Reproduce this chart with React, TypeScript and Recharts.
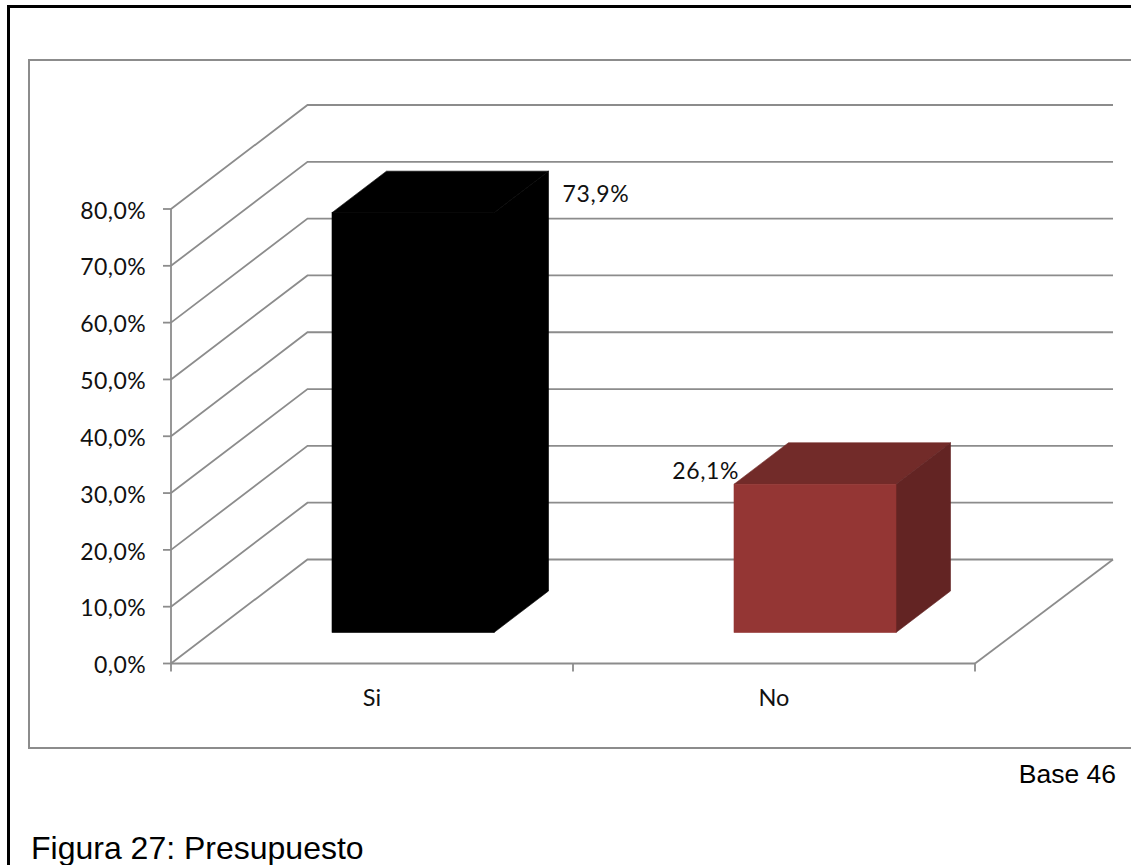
import { BarChart, Bar, XAxis, YAxis, CartesianGrid, ReferenceLine, LabelList } from "recharts";

const categories = ["Si", "No"];
const shares = [73.9, 26.1];
const yTicks = [0, 10, 20, 30, 40, 50, 60, 70, 80];

const frontColors = ["#000000", "#943634"];
const topColors = ["#000000", "#722b29"];
const sideColors = ["#000000", "#632423"];

const data = categories.map((name, i) => ({ name, share: shares[i] }));

const AXIS_COLOR = "#8c8c8c";
const TEXT_COLOR = "#111111";
const LABEL_FONT = "Lato, sans-serif";
const CAPTION_FONT: string = "'Liberation Sans', Arial, sans-serif";

// 3D projection of the Excel-style box: wall depth and bar depth
const WALL_DX = 136.5;
const WALL_DY = -104;
const WALL_RIGHT = 1113;
const BAR_SHIFT_X = 41;
const BAR_SHIFT_Y = -31;
const BAR_DX = 54.5;
const BAR_DY = -41.5;
const LINE_WIDTH = 1.8;

const percent = (v: number) => `${v.toFixed(1).replace(".", ",")}%`;

// left wall segment plus the line along the back wall
function WallLine(props: any) {
  const { x1, y1 } = props;
  const bx = x1 + WALL_DX;
  const by = y1 + WALL_DY;
  return (
    <path
      d={`M${x1},${y1}L${bx},${by}L${WALL_RIGHT},${by}`}
      fill="none"
      stroke={AXIS_COLOR}
      strokeWidth={LINE_WIDTH}
    />
  );
}

function FloorEdge(props: any) {
  const { x2, y2 } = props;
  return (
    <line
      x1={x2}
      y1={y2}
      x2={WALL_RIGHT}
      y2={y2 + WALL_DY}
      stroke={AXIS_COLOR}
      strokeWidth={LINE_WIDTH}
    />
  );
}

// category label centred in its band, tick marks on the band edges
function CategoryTick(props: any) {
  const { x, y, width, visibleTicksCount, payload, index } = props;
  const half = width / visibleTicksCount / 2;
  const marks = index === visibleTicksCount - 1 ? [x - half, x + half] : [x - half];
  return (
    <g>
      {marks.map((mx) => (
        <line key={mx} x1={mx} y1={y} x2={mx} y2={y + 8} stroke={AXIS_COLOR} strokeWidth={LINE_WIDTH} />
      ))}
      <text x={x} y={y + 42} textAnchor="middle" fontFamily={LABEL_FONT} fontSize={23.5} fill={TEXT_COLOR}>
        {payload.value}
      </text>
    </g>
  );
}

function Box3D(props: any) {
  const { x, y, width, height, index } = props;
  const l = x + BAR_SHIFT_X;
  const r = l + width;
  const t = y + BAR_SHIFT_Y;
  const b = t + height;
  return (
    <g strokeWidth={0.6}>
      <path
        d={`M${l},${t}L${l + BAR_DX},${t + BAR_DY}L${r + BAR_DX},${t + BAR_DY}L${r},${t}Z`}
        fill={topColors[index]}
        stroke={topColors[index]}
      />
      <path
        d={`M${r},${t}L${r + BAR_DX},${t + BAR_DY}L${r + BAR_DX},${b + BAR_DY}L${r},${b}Z`}
        fill={sideColors[index]}
        stroke={sideColors[index]}
      />
      <rect x={l} y={t} width={width} height={height} fill={frontColors[index]} stroke={frontColors[index]} />
    </g>
  );
}

// the first label sits right of the box, the second one left of its top face
function ValueLabel(props: any) {
  const { x, y, width, value, index } = props;
  const tx = index === 0 ? x + width + BAR_SHIFT_X + BAR_DX + 14 : x + BAR_SHIFT_X + 5;
  const ty = index === 0 ? y + BAR_SHIFT_Y - 11 : y + BAR_SHIFT_Y - 5;
  return (
    <text
      x={tx}
      y={ty}
      textAnchor={index === 0 ? "start" : "end"}
      fontFamily={LABEL_FONT}
      fontSize={23}
      letterSpacing={0.6}
      fill={TEXT_COLOR}
    >
      {percent(value)}
    </text>
  );
}

export default function App() {
  return (
    <div
      style={{
        position: "absolute",
        left: 0,
        top: 0,
        width: 1131,
        height: 865,
        overflow: "hidden",
        background: "#ffffff",
      }}
    >
      <div style={{ position: "absolute", left: 7, top: 5, right: -10, bottom: -10, border: "3px solid #000000" }} />
      <div style={{ position: "absolute", left: 28, top: 59, right: -10, height: 686, border: `2px solid ${AXIS_COLOR}` }} />

      <div style={{ position: "absolute", left: 0, top: 0 }}>
        <BarChart
          width={1131}
          height={865}
          data={data}
          margin={{ top: 209, left: 101, right: 156, bottom: 151.5 }}
        >
          <CartesianGrid horizontal={WallLine} vertical={false} />
          <XAxis
            dataKey="name"
            interval={0}
            stroke={AXIS_COLOR}
            strokeWidth={LINE_WIDTH}
            height={50}
            tickLine={false}
            tickSize={0}
            tickMargin={0}
            tick={CategoryTick}
          />
          <YAxis
            type="number"
            domain={[0, 80]}
            ticks={yTicks}
            width={70}
            interval={0}
            stroke={AXIS_COLOR}
            strokeWidth={LINE_WIDTH}
            tickSize={8}
            tickMargin={17}
            tickFormatter={percent}
            tick={{ fill: TEXT_COLOR, fontFamily: LABEL_FONT, fontSize: 23, letterSpacing: 0.4, dy: 1.5 }}
          />
          <ReferenceLine y={0} stroke="none" shape={FloorEdge} />
          <Bar dataKey="share" barSize={162} shape={Box3D} isAnimationActive={false}>
            <LabelList dataKey="share" content={ValueLabel} />
          </Bar>
        </BarChart>
      </div>

      <div style={{ position: "absolute", right: 15, top: 759, fontFamily: CAPTION_FONT, fontSize: 26.5, lineHeight: "30px", color: "#000000" }}>
        Base 46
      </div>
      <div style={{ position: "absolute", left: 31, top: 830, fontFamily: CAPTION_FONT, fontSize: 32, lineHeight: "36px", color: "#000000", whiteSpace: "nowrap" }}>
        Figura 27: Presupuesto
      </div>
    </div>
  );
}
